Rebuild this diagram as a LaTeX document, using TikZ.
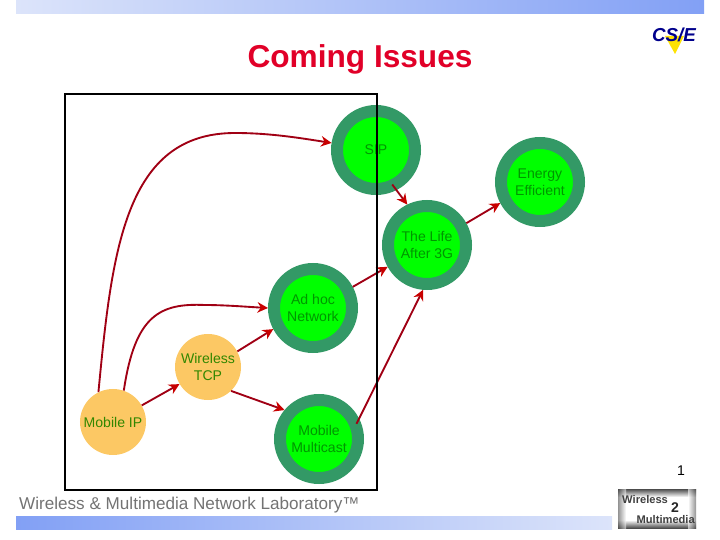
\documentclass[tikz,border=0pt]{standalone}
\usepackage{fontspec}
\setmainfont{Liberation Sans}
\usetikzlibrary{arrows.meta}
\definecolor{ringgreen}{RGB}{51,153,102}
\definecolor{corefill}{RGB}{0,255,0}
\definecolor{coretext}{RGB}{0,150,0}
\definecolor{basefill}{RGB}{252,200,100}
\definecolor{basetext}{RGB}{50,135,0}
\definecolor{linkred}{RGB}{160,0,20}
\definecolor{headred}{RGB}{200,0,0}
\definecolor{titlered}{RGB}{225,0,40}
\definecolor{barlight}{RGB}{220,228,250}
\definecolor{bardark}{RGB}{130,160,245}
\tikzset{
    ringnode/.style={circle, draw=ringgreen, line width=.36cm, fill=corefill, text=coretext,
        minimum size=2.34cm, inner sep=0pt, align=center, font=\fontsize{12}{14.5}\selectfont},
    basenode/.style={circle, fill=basefill, text=basetext,
        minimum size=1.98cm, inner sep=0pt, align=center, font=\fontsize{12}{14.5}\selectfont},
    linkarrow/.style={draw=linkred, line width=1.6pt, -{Stealth[length=9pt,width=9pt,color=headred]}}
}
\begin{document}
\begin{tikzpicture}[x=.03cm, y=-.03cm]
    \useasboundingbox (0, 0) rectangle (720, 540);

    \shade[left color=barlight, right color=bardark] (16, 0) rectangle (704, 14);
    \shade[left color=bardark, right color=barlight] (16, 516) rectangle (612, 529);

    \node[text=titlered, font=\fontsize{27}{30}\bfseries\selectfont] (title) at (360, 59) {Coming Issues};

    \node[ringnode] (sip) at (376, 150) {SIP};
    \node[ringnode] (energy) at (540, 182) {Energy\\Efficient};
    \node[ringnode] (life) at (427, 245) {The Life\\After 3G};
    \node[ringnode] (adhoc) at (313, 308) {Ad hoc\\Network};
    \node[ringnode] (multicast) at (319, 439) {Mobile\\Multicast};
    \node[basenode] (wtcp) at (208, 367) {Wireless\\TCP};
    \node[basenode] (mobileip) at (113, 422) {Mobile IP};

    \draw[linkarrow] (mobileip.116) .. controls (112, 250) and (125, 133) .. (235, 133) .. controls (270, 133) and (300, 138) .. (sip.171);
    \draw[linkarrow] (mobileip.71) .. controls (135, 315) and (160, 303) .. (205, 305) .. controls (225, 305) and (250, 307) .. (adhoc.west);
    \draw[linkarrow] (mobileip.30) -- (wtcp.211);
    \draw[linkarrow] (wtcp.28) -- (adhoc.208);
    \draw[linkarrow] (wtcp.-46) -- (multicast.140);
    \draw[linkarrow] (adhoc.28) -- (life.209);
    \draw[linkarrow, shorten <=-5pt] (multicast.27) -- (life.265);
    \draw[linkarrow, shorten <=-6pt] (sip.-63) -- (life.116);
    \draw[linkarrow] (life.29) -- (energy.208);

    \draw[line width=.06cm] (65, 94) rectangle (377, 490);

    \node[font=\fontsize{12}{14}\selectfont] (pagenum) at (681, 471) {1};
    \node[text=black!55, font=\fontsize{14.6}{16}\selectfont, anchor=west, inner sep=0pt] (footer) at (19, 505) {Wireless \& Multimedia Network Laboratory™};

    % logos
    \fill[yellow!85!orange] (665, 36) -- (684, 36) -- (675, 54) -- cycle;
    \node[text=blue!55!black, font=\fontsize{16}{17}\bfseries\itshape\selectfont, inner sep=0pt] (csie) at (674, 35) {CS/E};

    \fill[white] (618, 489) rectangle (696, 528);
    \shade[top color=black!70, bottom color=white] (618, 489) rectangle (696, 497);
    \shade[top color=white, bottom color=black!70] (618, 520) rectangle (696, 528);
    \shade[left color=black!70, right color=white, opacity=.6] (618, 489) rectangle (626, 528);
    \shade[left color=white, right color=black!70, opacity=.6] (688, 489) rectangle (696, 528);
    \node[text=black!75, font=\fontsize{9.5}{11}\bfseries\selectfont, inner sep=0pt, anchor=west] (wl) at (622, 500) {Wireless};
    \node[text=black!85, font=\fontsize{12}{13}\bfseries\selectfont, inner sep=0pt] (two) at (675, 508) {2};
    \node[text=black!75, font=\fontsize{9.5}{11}\bfseries\selectfont, inner sep=0pt, anchor=east] (mm) at (695, 520) {Multimedia};
\end{tikzpicture}
\end{document}
